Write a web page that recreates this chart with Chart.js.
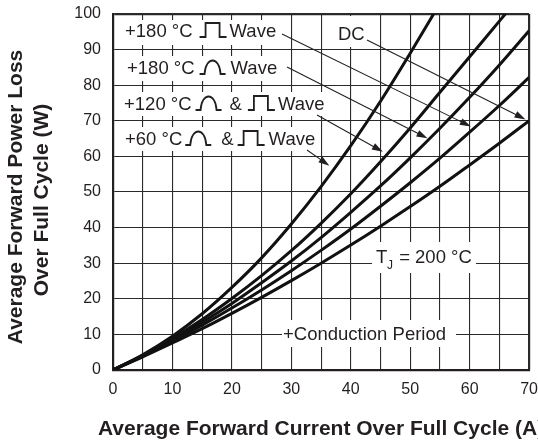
<!DOCTYPE html>
<html>
<head>
<meta charset="utf-8">
<script src="https://cdn.jsdelivr.net/npm/chart.js@4.4.1/dist/chart.umd.min.js"></script>
<style>
  body { margin: 0; background: #fff; }
  canvas { display: block; }
</style>
</head>
<body>
<canvas id="lossChart" width="538" height="444"></canvas>
<script>
// values (W at each current in A)
const currents = [0, 5, 10, 15, 20, 25, 30, 35, 40, 45, 50, 55, 60, 65, 70];
const loss60 = [0, 4.3, 9.5, 15.8, 23.2, 31.5, 41, 51.5, 63, 75.5, 89, 103, null, null, null];
const loss120 = [0, 4.1, 8.9, 14.2, 20.1, 26.5, 33.5, 41.2, 49.5, 58.5, 68, 78, 88, 98, 108];
const loss180sine = [0, 4.0, 8.5, 13.4, 18.7, 24.5, 30.6, 37.2, 44.3, 51.7, 59.6, 67.9, 76.6, 85.7, 95.3];
const loss180square = [0, 3.9, 8.1, 12.6, 17.4, 22.5, 27.9, 33.6, 39.6, 46.0, 52.6, 59.5, 66.8, 74.3, 82.2];
const lossDC = [0, 3.7, 7.6, 11.6, 15.9, 20.4, 25.1, 30.0, 35.1, 40.4, 45.9, 51.6, 57.6, 63.7, 70.0];
const seriesNames = ['+60 °C sine & square', '+120 °C sine & square', '+180 °C sine', '+180 °C square', 'DC'];

const xGrid = [0, 5, 10, 15, 20, 25, 30, 35, 40, 45, 50, 55, 60, 65, 70];
const xTickLabels = [0, 10, 20, 30, 40, 50, 60, 70];
const yTickLabels = [0, 10, 20, 30, 40, 50, 60, 70, 80, 90, 100];

const ink = '#231f20';
const FONT = '"Liberation Sans", Arial, sans-serif';

function toPoints(values) {
    return currents.map((c, i) => ({ x: c, y: values[i] }));
}

const allSeries = [loss60, loss120, loss180sine, loss180square, lossDC];

// white boxes that break the grid behind the labels [x, y, w, h]
const boxes = [
    [120, 20, 164, 25], [121, 56, 163, 25], [120, 92, 207, 24], [120, 127, 197, 24],
    [334, 16, 35, 31], [372, 242, 104, 31], [282, 320, 174, 27]
];

// label text, gaps and wave glyphs, starting x and baseline
const waveLabels = [
    { x: 125, y: 37, parts: ['+180 °C', 7, 'SQ', 3, 'Wave'] },
    { x: 127, y: 74, parts: ['+180 °C', 5, 'SIN', 5, 'Wave'] },
    { x: 124, y: 110, parts: ['+120 °C', 4, 'SIN', 8, '&', 6, 'SQ', 3, 'Wave'] },
    { x: 125, y: 145, parts: ['+60 °C', 3, 'SIN', 10, '&', 4, 'SQ', 4, 'Wave'] }
];

// arrow start in pixels, tip in data units
const arrows = [
    { from: [282, 34], to: [60.2, 68.4] },
    { from: [287, 67], to: [52.9, 65.1] },
    { from: [317, 115], to: [45.4, 61.3] },
    { from: [307, 150], to: [36.4, 57.4] },
    { from: [367, 40], to: [69.4, 70.4] }
];

function squareWave(ctx, x, base) {
    ctx.beginPath();
    ctx.moveTo(x, base);
    ctx.lineTo(x + 6, base);
    ctx.lineTo(x + 6, base - 14);
    ctx.lineTo(x + 20, base - 14);
    ctx.lineTo(x + 20, base);
    ctx.lineTo(x + 27, base);
    ctx.stroke();
    return 27;
}

function sineWave(ctx, x, base) {
    ctx.beginPath();
    ctx.moveTo(x, base);
    ctx.lineTo(x + 5, base);
    ctx.bezierCurveTo(x + 6, base - 18, x + 20, base - 18, x + 21, base);
    ctx.lineTo(x + 26, base);
    ctx.stroke();
    return 26;
}

function arrow(ctx, x0, y0, x1, y1) {
    const a = Math.atan2(y1 - y0, x1 - x0);
    const len = 11, half = 3.5;
    const c = Math.cos(a), s = Math.sin(a);
    ctx.beginPath();
    ctx.moveTo(x0, y0);
    ctx.lineTo(x1 - len * 0.8 * c, y1 - len * 0.8 * s);
    ctx.stroke();
    ctx.beginPath();
    ctx.moveTo(x1, y1);
    ctx.lineTo(x1 - len * c + half * s, y1 - len * s - half * c);
    ctx.lineTo(x1 - len * c - half * s, y1 - len * s + half * c);
    ctx.closePath();
    ctx.fill();
}

const annotations = {
    id: 'annotations',
    beforeDatasetsDraw(chart) {
        const ctx = chart.ctx;
        ctx.save();
        ctx.fillStyle = '#fff';
        boxes.forEach(b => ctx.fillRect(b[0], b[1], b[2], b[3]));
        ctx.restore();
    },
    afterDatasetsDraw(chart) {
        const ctx = chart.ctx;
        const xs = chart.scales.x, ys = chart.scales.y;
        ctx.save();
        ctx.fillStyle = ink;
        ctx.strokeStyle = ink;
        ctx.font = '18.5px ' + FONT;
        ctx.textBaseline = 'alphabetic';
        ctx.textAlign = 'left';

        waveLabels.forEach(l => {
            let x = l.x;
            l.parts.forEach(p => {
                if (typeof p === 'number') {
                    x += p;
                } else if (p === 'SQ') {
                    ctx.lineWidth = 1.8;
                    x += squareWave(ctx, x, l.y);
                } else if (p === 'SIN') {
                    ctx.lineWidth = 1.8;
                    x += sineWave(ctx, x, l.y);
                } else {
                    ctx.fillText(p, x, l.y);
                    x += ctx.measureText(p).width;
                }
            });
        });

        ctx.fillText('DC', 338, 40);
        ctx.fillText('+Conduction Period', 283, 340);
        ctx.fillText('T', 376, 263);
        ctx.font = '12px ' + FONT;
        ctx.fillText('J', 387, 269);
        ctx.font = '18.5px ' + FONT;
        ctx.fillText(' = 200 °C', 394, 263);

        ctx.lineWidth = 1.1;
        arrows.forEach(a => {
            arrow(ctx, a.from[0], a.from[1], xs.getPixelForValue(a.to[0]), ys.getPixelForValue(a.to[1]));
        });

        // axis titles
        const area = chart.chartArea;
        ctx.font = 'bold 21px ' + FONT;
        ctx.textAlign = 'center';
        ctx.textBaseline = 'middle';
        ctx.fillText('Average Forward Current Over Full Cycle (A)', (area.left + area.right) / 2, 429);
        ctx.translate(16, 197);
        ctx.rotate(-Math.PI / 2);
        ctx.fillText('Average Forward Power Loss', 0, 0);
        ctx.fillText('Over Full Cycle (W)', -3, 26);
        ctx.restore();
    }
};

const ctx = document.getElementById('lossChart').getContext('2d');
const lossChart = new Chart(ctx, {
    type: 'line',
    data: {
        datasets: allSeries.map((values, i) => ({
            label: seriesNames[i],
            data: toPoints(values),
            borderColor: '#111',
            borderWidth: 3,
            pointRadius: 0,
            fill: false,
            cubicInterpolationMode: 'monotone',
            spanGaps: false
        }))
    },
    options: {
        responsive: false,
        animation: false,
        layout: { padding: { top: 14, right: 8, left: 0, bottom: 0 } },
        plugins: {
            legend: { display: false },
            tooltip: { enabled: false }
        },
        scales: {
            x: {
                type: 'linear',
                min: 0,
                max: 70,
                afterBuildTicks: scale => { scale.ticks = xGrid.map(v => ({ value: v })); },
                afterFit: scale => { scale.height = 74; },
                ticks: {
                    autoSkip: false,
                    maxRotation: 0,
                    padding: 0,
                    color: ink,
                    font: { family: FONT, size: 16, lineHeight: 2.4 },
                    callback: v => xTickLabels.includes(v) ? String(v) : ''
                },
                grid: {
                    drawTicks: false,
                    color: '#2a2a2a',
                    lineWidth: c => c.tick && c.tick.value === 70 ? 2.2 : 1.1
                },
                border: { display: true, width: 2.2, color: ink }
            },
            y: {
                min: 0,
                max: 100,
                afterBuildTicks: scale => { scale.ticks = yTickLabels.map(v => ({ value: v })); },
                afterFit: scale => { scale.width = 113; },
                ticks: {
                    padding: 12,
                    color: ink,
                    font: { family: FONT, size: 16, lineHeight: 0.2 }
                },
                grid: {
                    drawTicks: false,
                    color: '#2a2a2a',
                    lineWidth: c => c.tick && c.tick.value === 100 ? 2.2 : 1.1
                },
                border: { display: true, width: 2.2, color: ink }
            }
        }
    },
    plugins: [annotations]
});
</script>
</body>
</html>
